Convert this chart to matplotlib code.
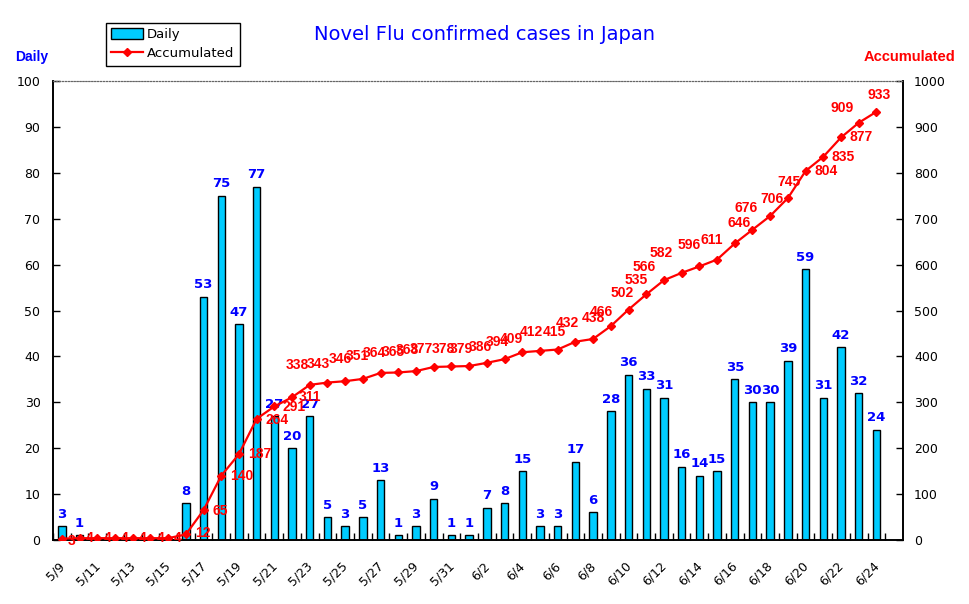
import matplotlib
matplotlib.use("Agg")
import matplotlib.pyplot as plt
from matplotlib.lines import Line2D
from matplotlib.patches import Patch
from matplotlib.transforms import ScaledTranslation
import numpy as np

# ---- data ----
dates = ["5/9", "5/10", "5/11", "5/12", "5/13", "5/14", "5/15", "5/16", "5/17", "5/18",
         "5/19", "5/20", "5/21", "5/22", "5/23", "5/24", "5/25", "5/26", "5/27", "5/28",
         "5/29", "5/30", "5/31", "6/1", "6/2", "6/3", "6/4", "6/5", "6/6", "6/7",
         "6/8", "6/9", "6/10", "6/11", "6/12", "6/13", "6/14", "6/15", "6/16", "6/17",
         "6/18", "6/19", "6/20", "6/21", "6/22", "6/23", "6/24"]
daily = [3, 1, 0, 0, 0, 0, 0, 8, 53, 75,
         47, 77, 27, 20, 27, 5, 3, 5, 13, 1,
         3, 9, 1, 1, 7, 8, 15, 3, 3, 17,
         6, 28, 36, 33, 31, 16, 14, 15, 35, 30,
         30, 39, 59, 31, 42, 32, 24]
accumulated = [3, 4, 4, 4, 4, 4, 4, 12, 65, 140,
               187, 264, 291, 311, 338, 343, 346, 351, 364, 365,
               368, 377, 378, 379, 386, 394, 409, 412, 415, 432,
               438, 466, 502, 535, 566, 582, 596, 611, 646, 676,
               706, 745, 804, 835, 877, 909, 933]
left_ticks = list(range(0, 101, 10))
right_ticks = list(range(0, 1001, 100))

# ---- label offsets (pixels) for accumulated labels: (dx, dy, ha) ----
acc_offsets = [(6, -2, 'left'), (6, 0, 'left'), (6, 0, 'left'), (6, 0, 'left'), (6, 0, 'left'),
               (6, 0, 'left'), (6, 0, 'left'), (9, 1, 'left'), (9, -1, 'left'), (9, 0, 'left'),
               (9, 0, 'left'), (9, -1, 'left'), (8, -1, 'left'), (7, 0, 'left'),
               (-12, 20, 'center'), (-9, 19, 'center'), (-5, 22, 'center'), (-6, 23, 'center'),
               (-6, 20, 'center'), (-5, 20, 'center'), (-9, 21, 'center'), (-12, 18, 'center'),
               (-8, 17, 'center'), (-8, 17, 'center'), (-7, 16, 'center'), (-7, 17, 'center'),
               (-11, 13, 'center'), (-9, 19, 'center'), (-3, 18, 'center'), (-8, 19, 'center'),
               (0, 21, 'center'), (-9, 14, 'center'), (-6, 17, 'center'), (-10, 14, 'center'),
               (-20, 13, 'center'), (-21, 20, 'center'), (-10, 21, 'center'), (-5, 20, 'center'),
               (4, 20, 'center'), (-6, 22, 'center'), (2, 17, 'center'), (1, 16, 'center'),
               (9, 0, 'left'), (8, 0, 'left'), (8, 0, 'left'), (-17, 15, 'center'), (3, 17, 'center')]

W, H = 970, 604
fig = plt.figure(figsize=(W / 100, H / 100), dpi=100)
ax = fig.add_axes([53 / W, 64 / H, 850 / W, 459 / H])
ax2 = ax.twinx()

x = np.arange(len(dates))
bar_color = "#00CCFF"
ax.bar(x, daily, width=0.42, color=bar_color, edgecolor="black", linewidth=1.0, zorder=2)
for xi, v in zip(x, daily):
    if v > 0:
        ax.text(xi, v + 1.2, str(v), ha="center", va="bottom", color="#0000FF",
                fontsize=9.5, fontweight="bold", family="DejaVu Sans", zorder=3)

ax2.plot(x, accumulated, color="#FF0000", lw=1.6, marker="D", markersize=3.8, zorder=4)
px = 1 / 100
for xi, v, (dx, dy, ha) in zip(x, accumulated, acc_offsets):
    t = ax2.transData + ScaledTranslation(dx * px, dy * px, fig.dpi_scale_trans)
    ax2.text(xi, v, str(v), transform=t, ha=ha, va="center", color="#FF0000",
             fontsize=10, fontweight="bold", family="Liberation Sans", zorder=5)

ax.set_xlim(-0.5, len(dates) + 0.5)
ax.set_ylim(0, 100)
ax2.set_ylim(0, 1000)
ax.set_yticks(left_ticks)
ax2.set_yticks(right_ticks)

ax.set_xticks(x[::2])
ax.set_xticklabels(dates[::2], rotation=45, ha="right", va="top", rotation_mode="anchor",
                   fontsize=9, family="DejaVu Sans")
ax.set_xticks(np.arange(-0.5, len(dates) + 0.5, 1.0), minor=True)
ax.tick_params(axis="x", which="major", length=0, pad=14)
ax.tick_params(axis="x", which="minor", direction="in", length=5, width=1)
for lab in ax.get_xticklabels():
    lab.set_transform(lab.get_transform() + ScaledTranslation(-4 * px, 0, fig.dpi_scale_trans))

ax.tick_params(axis="y", direction="in", length=5, width=1, labelsize=9, pad=9)
ax2.tick_params(axis="y", direction="in", length=5, width=1, labelsize=9, pad=8)
for a in (ax, ax2):
    for s in ("left", "right", "bottom"):
        a.spines[s].set_linewidth(1.2)
        a.spines[s].set_color("black")
    a.spines["top"].set_linestyle(":")
    a.spines["top"].set_color("#666666")
    a.spines["top"].set_linewidth(0.8)

fig.text(485 / W, 1 - 35 / H, "Novel Flu confirmed cases in Japan", ha="center", va="center",
         color="#0000FF", fontsize=14, family="DejaVu Sans")
fig.text(15 / W, 1 - 57 / H, "Daily", ha="left", va="center", color="#0000FF",
         fontsize=10, fontweight="bold", family="Liberation Sans")
fig.text(955 / W, 1 - 57 / H, "Accumulated", ha="right", va="center", color="#FF0000",
         fontsize=10.5, fontweight="bold", family="Liberation Sans")

handles = [Patch(facecolor=bar_color, edgecolor="black", linewidth=1.0),
           Line2D([0], [0], color="#FF0000", lw=1.6, marker="D", markersize=3.8)]
leg = fig.legend(handles, ["Daily", "Accumulated"], loc="upper left",
                 bbox_to_anchor=(106 / W, 1 - 23 / H), borderaxespad=0, fancybox=False,
                 edgecolor="black", framealpha=1, prop={"family": "DejaVu Sans", "size": 9.5},
                 handlelength=2.4, handleheight=0.9, handletextpad=0.3, labelspacing=0.45,
                 borderpad=0.4)
leg.get_frame().set_linewidth(1.0)

fig.savefig("out.png", dpi=100)
